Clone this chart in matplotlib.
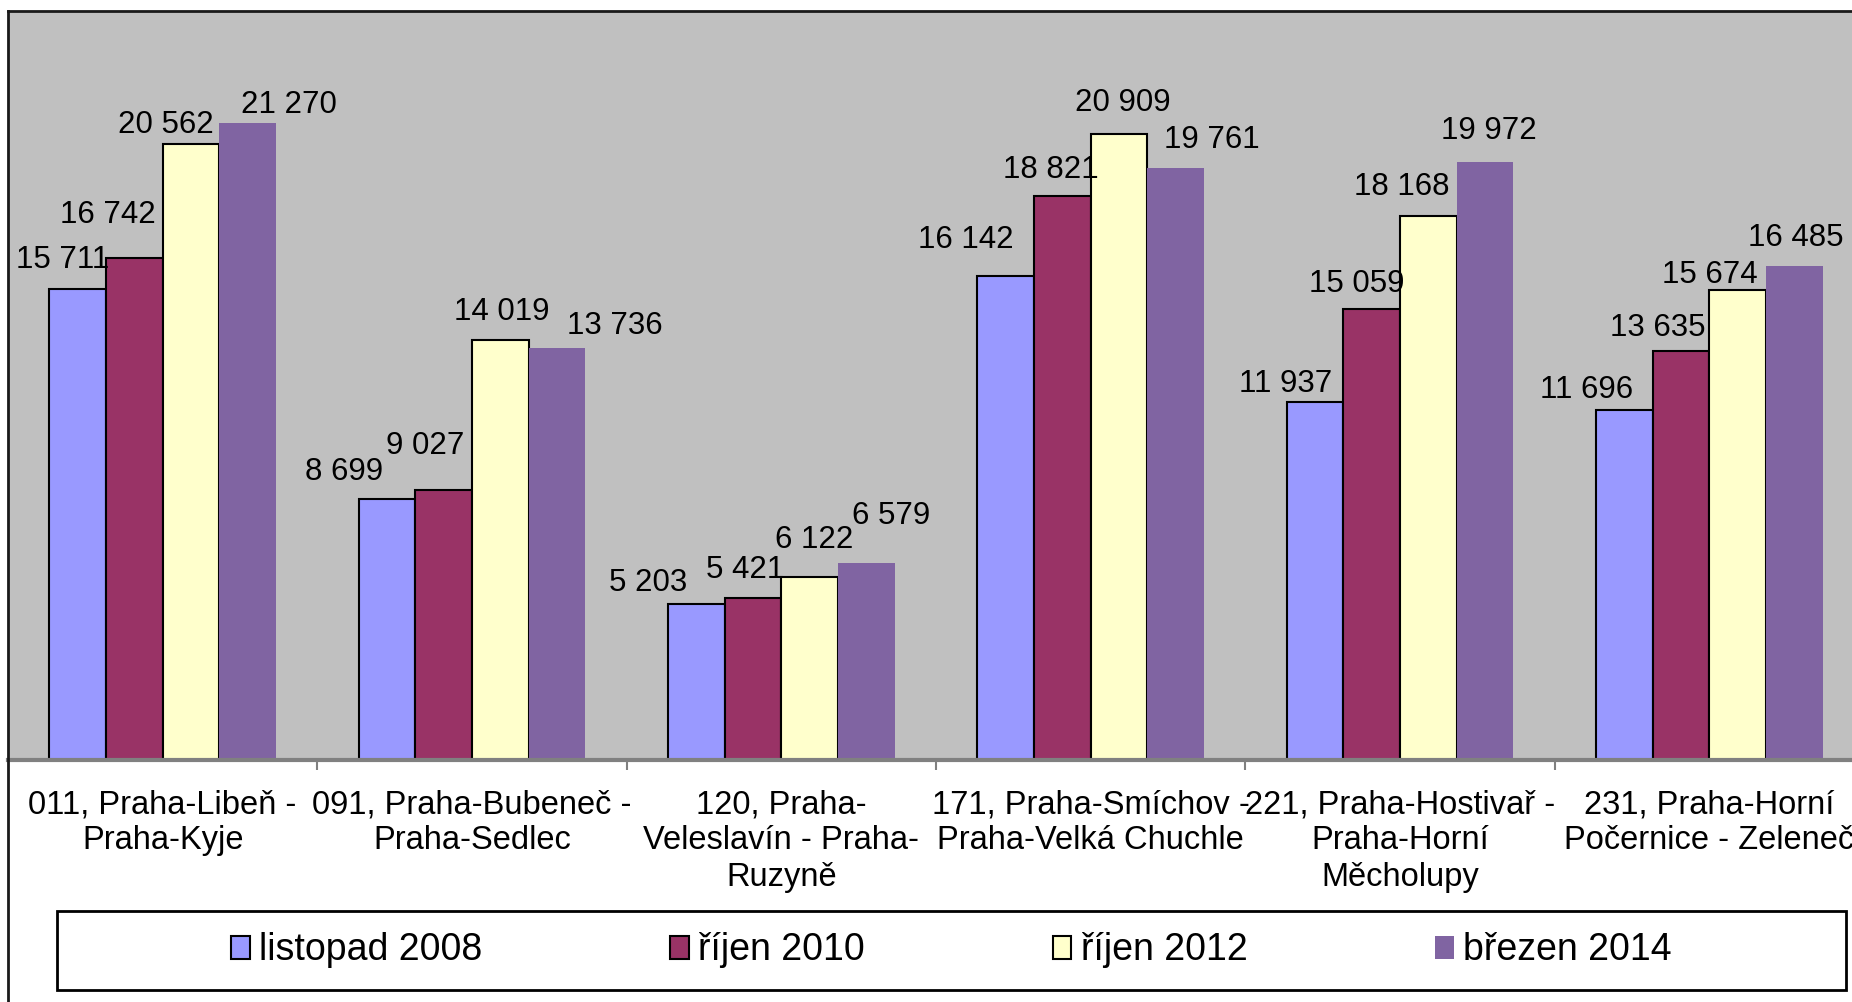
import matplotlib
matplotlib.use('Agg')
import matplotlib.pyplot as plt
from matplotlib.lines import Line2D
from matplotlib.patches import Rectangle
import numpy as np

plt.rcParams['font.family'] = ['Liberation Sans', 'DejaVu Sans']

categories = [
    '011, Praha-Libeň -\nPraha-Kyje',
    '091, Praha-Bubeneč -\nPraha-Sedlec',
    '120, Praha-\nVeleslavín - Praha-\nRuzyně',
    '171, Praha-Smíchov -\nPraha-Velká Chuchle',
    '221, Praha-Hostivař -\nPraha-Horní\nMěcholupy',
    '231, Praha-Horní\nPočernice - Zeleneč',
]
series_names = ['listopad 2008', 'říjen 2010', 'říjen 2012', 'březen 2014']
listopad_2008 = [15711, 8699, 5203, 16142, 11937, 11696]
rijen_2010 = [16742, 9027, 5421, 18821, 15059, 13635]
rijen_2012 = [20562, 14019, 6122, 20909, 18168, 15674]
brezen_2014 = [21270, 13736, 6579, 19761, 19972, 16485]
values = [listopad_2008, rijen_2010, rijen_2012, brezen_2014]

colors = ['#9999FF', '#993366', '#FFFFCC', '#8064A2']
edges = ['black', 'black', 'black', 'none']

# data label nudges in points (labels were moved by hand in the source)
label_dx = [[-11, -31, -35, -29, -21, -27],
            [-19, -13, -6, -8, -11, -17],
            [-18, 1, 3, 3, -19, -20],
            [30, 42, 18, 26, 3, 1]]
label_dy = [[21, 20, 15, 26, 13, 14],
            [31, 31, 20, 19, 18, 17],
            [14, 20, 26, 22, 21, 11],
            [13, 16, 34, 20, 22, 20]]

W, H = 1852, 1002
fig = plt.figure(figsize=(W / 100, H / 100), dpi=100)
fig.patch.set_facecolor('white')

# plot area (runs past the right edge like the source)
ax = fig.add_axes([8 / W, 1 - 760 / H, (1864 - 8) / W, (760 - 11) / H])
ax.set_facecolor('#C0C0C0')

x = np.arange(len(categories))
bw = 0.183
for i, vals in enumerate(values):
    pos = x + (i - 1.5) * bw
    ax.bar(pos, vals, width=bw, color=colors[i], edgecolor=edges[i],
           linewidth=1.5, label=series_names[i], zorder=2)
    for j, (px, v) in enumerate(zip(pos, vals)):
        txt = f'{v:,}'.replace(',', ' ')
        ax.annotate(txt, (px, v), xytext=(label_dx[i][j], label_dy[i][j]),
                    textcoords='offset points', ha='center', va='center',
                    fontsize=22.5, color='black', zorder=3)

ax.set_xlim(-0.5, len(categories) - 0.5)
ax.set_ylim(0, 25000)
ax.set_yticks([])
ax.set_xticks(x)
ax.set_xticklabels(categories, fontsize=23.5, linespacing=1.22)
ax.tick_params(axis='x', which='major', length=0, pad=21)
ax.set_xticks(np.arange(0.5, len(categories) - 0.5, 1), minor=True)
ax.tick_params(axis='x', which='minor', length=7, width=1.5,
               color='#808080', direction='out')
for s in ['top', 'right', 'left']:
    ax.spines[s].set_visible(False)
ax.spines['bottom'].set_color('#808080')
ax.spines['bottom'].set_linewidth(3)

# chart area border (top and left visible)
fig.add_artist(Line2D([8 / W, 1.01], [1 - 11 / H, 1 - 11 / H],
                      transform=fig.transFigure, color='#1a1a1a', lw=2))
fig.add_artist(Line2D([8 / W, 8 / W], [-0.01, 1 - 11 / H],
                      transform=fig.transFigure, color='#1a1a1a', lw=2))

# legend box
lx0, lx1, ly0, ly1 = 57, 1846, 911, 990
fig.add_artist(Rectangle((lx0 / W, 1 - ly1 / H), (lx1 - lx0) / W,
                         (ly1 - ly0) / H, transform=fig.transFigure,
                         facecolor='white', edgecolor='black', lw=2))
handles, labels = ax.get_legend_handles_labels()
fig.legend(handles, labels, loc='center',
           bbox_to_anchor=((lx0 + lx1) / 2 / W, 1 - (ly0 + ly1) / 2 / H),
           ncol=4, frameon=False, fontsize=27, handlelength=0.5,
           handleheight=0.55, handletextpad=0.25, columnspacing=5.0)

plt.savefig('out.png', dpi=100, facecolor='white')
plt.close()
